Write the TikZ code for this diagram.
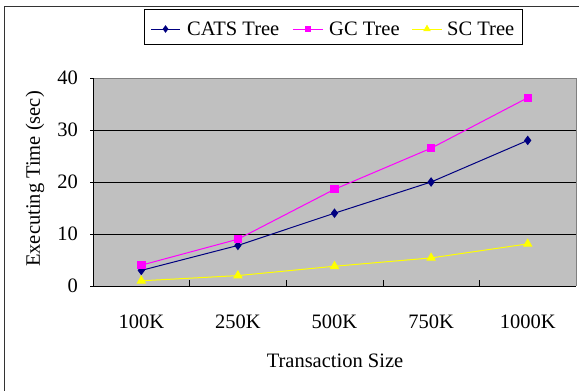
\documentclass[tikz,border=0pt]{standalone}
\usepackage{fontspec}
\setmainfont{Liberation Serif}
\usetikzlibrary{plotmarks}
\definecolor{catsblue}{RGB}{0,0,128}
\definecolor{gcpink}{RGB}{255,0,255}
\definecolor{scyellow}{RGB}{255,255,0}
\definecolor{plotgray}{RGB}{192,192,192}
\definecolor{edgegray}{RGB}{128,128,128}
\tikzset{
	catsline/.style={catsblue, line width=1pt, mark=diamond*, mark size=4pt},
	gcline/.style={gcpink, line width=1pt, mark=square*, mark size=3.7pt},
	scline/.style={scyellow, line width=1pt, mark=triangle*, mark size=4.6pt},
	legtext/.style={anchor=west, inner sep=0pt}
}
\begin{document}
\begin{tikzpicture}[x=1pt,y=-1pt,font=\fontsize{20.5}{24}\selectfont]
	\useasboundingbox (0,0) rectangle (579,391);
	\draw[black!80, line width=1.5pt] (4.5,391) -- (4.5,6.5) -- (579,6.5);
	
	% plot area and grid
	\fill[plotgray] (93,78) rectangle (576,286);
	\draw[edgegray] (93,78) -- (576,78) -- (576,286);
	\foreach \y in {130,182,234}
		\draw (93,\y) -- (576,\y);
	\draw (93,78) -- (93,286) -- (576,286);
	\foreach \y in {78,130,182,234,286}
		\draw (90,\y) -- (93,\y);
	\foreach \x in {189.6,286.2,382.8,479.4}
		\draw (\x,286) -- (\x,280);
	
	% tick labels
	\foreach \v/\y in {0/286,10/234,20/182,30/130,40/78}
		\node[anchor=east, inner sep=0pt] (ytick\v) at (78,\y) {\v};
	\foreach \t [count=\i] in {100K,250K,500K,750K,1000K}
		\node (xtick\i) at (44.7+96.6*\i,322) {\t};
	\node[rotate=90] (ylabel) at (35,179) {Executing Time (sec)};
	\node (xlabel) at (335,361) {Transaction Size};
	
	% data
	\begin{scope}[shift={(93,286)}, x=96.6pt, y=5.2pt]
		\draw[catsline] plot coordinates {(0.5,3) (1.5,7.8) (2.5,14) (3.5,20) (4.5,28)};
		\draw[gcline] plot coordinates {(0.5,4) (1.5,9) (2.5,18.6) (3.5,26.5) (4.5,36.2)};
		\draw[scline] plot coordinates {(0.5,1) (1.5,2) (2.5,3.8) (3.5,5.4) (4.5,8.1)};
	\end{scope}
	
	% legend
	\draw[line width=1pt] (144,9) rectangle (522,44);
	\draw[catsline, mark size=3pt] (151,29) -- (180,29) plot coordinates {(165.5,29)};
	\node[legtext] (legcats) at (187,29) {CATS Tree};
	\draw[gcline, mark size=2.6pt] (293,29) -- (323,29) plot coordinates {(308,29)};
	\node[legtext] (leggc) at (329,29) {GC Tree};
	\draw[scline, mark size=3.4pt] (412,29) -- (442,29) plot coordinates {(427,29)};
	\node[legtext] (legsc) at (447,29) {SC Tree};
\end{tikzpicture}
\end{document}
